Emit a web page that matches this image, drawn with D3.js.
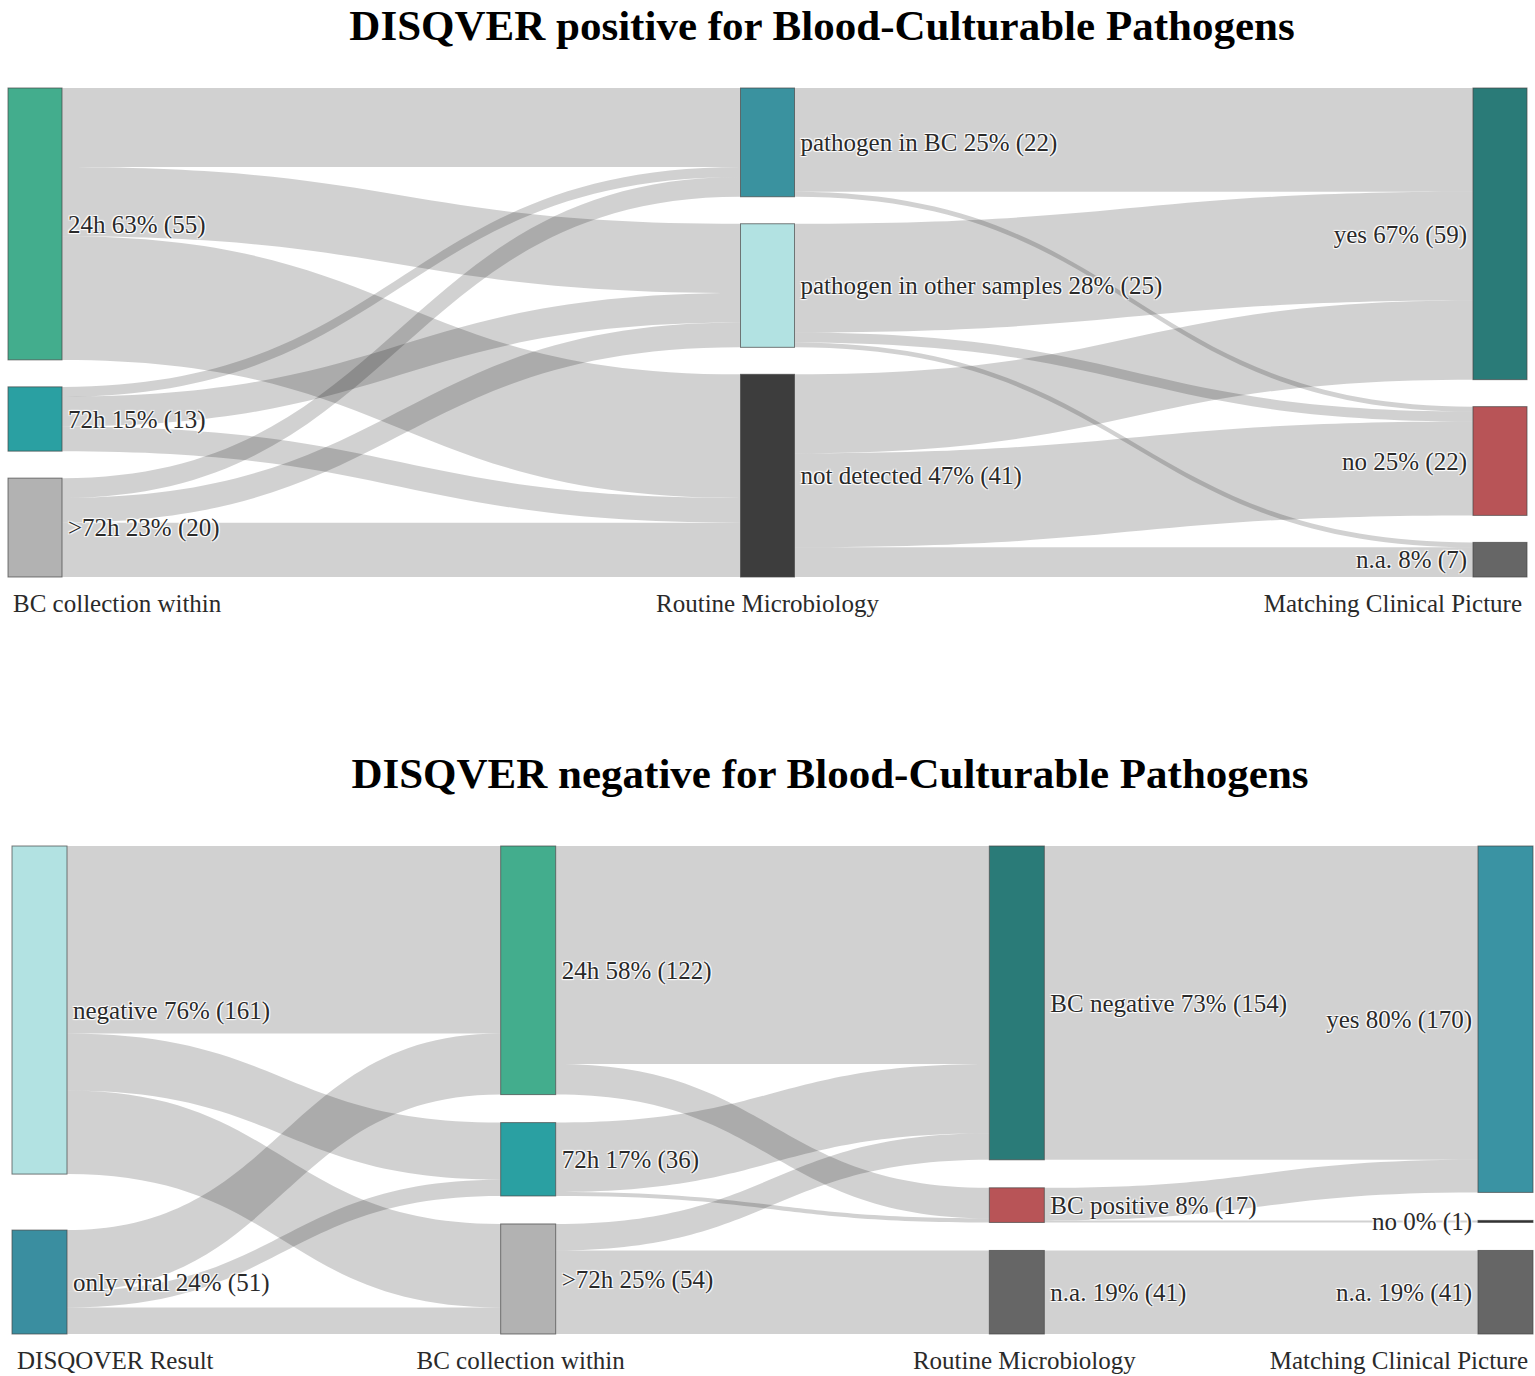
<!DOCTYPE html>
<html>
<head>
<meta charset="utf-8">
<script src="https://cdn.jsdelivr.net/npm/d3@7"></script>
<style>
  body { margin: 0; background: #fff; }
  text { font-family: "Liberation Serif", "Times New Roman", serif; }
  .lbl { text-shadow: 1px 1px 1px #fff, 1px -1px 1px #fff, -1px 1px 1px #fff, -1px -1px 1px #fff; }
</style>
</head>
<body>
<svg id="chart" width="1535" height="1376"></svg>
<script>
// ---- DISQVER positive ----
var posNames = ["24h", "72h", ">72h", "pathogen in BC", "pathogen in other samples", "not detected", "yes", "no", "n.a."];
var posColumn = [0, 0, 0, 1, 1, 1, 2, 2, 2];
var posSource = [0, 0, 0, 1, 1, 1, 2, 2, 2, 3, 3, 4, 4, 4, 5, 5, 5];
var posTarget = [3, 4, 5, 3, 4, 5, 3, 4, 5, 6, 7, 6, 7, 8, 6, 7, 8];
var posValue  = [16, 14, 25, 2, 6, 5, 4, 5, 11, 21, 1, 22, 2, 1, 16, 19, 6];
var posTitles = ["BC collection within", "Routine Microbiology", "Matching Clinical Picture"];

// ---- DISQVER negative ----
var negNames = ["negative", "only viral", "24h", "72h", ">72h", "BC negative", "BC positive", "n.a.", "yes", "no", "n.a."];
var negColumn = [0, 0, 1, 1, 1, 2, 2, 2, 3, 3, 3];
var negSource = [0, 0, 0, 1, 1, 1, 2, 2, 3, 3, 4, 4, 5, 6, 6, 7];
var negTarget = [2, 3, 4, 2, 3, 4, 5, 6, 5, 6, 5, 7, 8, 8, 9, 10];
var negValue  = [92, 28, 41, 30, 8, 13, 107, 15, 34, 2, 13, 41, 154, 16, 1, 41];
var negTitles = ["DISQOVER Result", "BC collection within", "Routine Microbiology", "Matching Clinical Picture"];

// node colours
var posColors = ["#43ad8d", "#2aa0a2", "#b2b2b2", "#3a929f", "#b2e2e2", "#3d3d3d", "#2a7b78", "#b85457", "#666666"];
var negColors = ["#b2e2e2", "#3a8ea0", "#43ad8d", "#2aa0a2", "#b2b2b2", "#2a7b78", "#b85457", "#666666", "#3a93a3", "#333333", "#666666"];

var svg = d3.select("#chart");

function sankey(g, cfg) {
  var nodes = cfg.names.map(function(d, i) {
    return {name: d, col: cfg.column[i], color: cfg.colors[i], sourceLinks: [], targetLinks: []};
  });
  var links = cfg.source.map(function(s, i) {
    return {source: nodes[s], target: nodes[cfg.target[i]], value: cfg.value[i]};
  });
  links.forEach(function(l) { l.source.sourceLinks.push(l); l.target.targetLinks.push(l); });
  nodes.forEach(function(n) {
    n.value = Math.max(d3.sum(n.sourceLinks, function(l) { return l.value; }),
                       d3.sum(n.targetLinks, function(l) { return l.value; }));
  });

  var cols = d3.groups(nodes, function(n) { return n.col; }).sort(function(a, b) { return a[0] - b[0]; });
  var H = cfg.y1 - cfg.y0;
  var ky = d3.min(cols, function(c) {
    return (H - (c[1].length - 1) * cfg.pad) / d3.sum(c[1], function(n) { return n.value; });
  });
  var total = d3.sum(cols[0][1], function(n) { return n.value; });
  var x = d3.scaleLinear().domain([0, cols.length - 1]).range([cfg.x0, cfg.x1 - cfg.nodeWidth]);
  var h = d3.scaleLinear().domain([0, 1]).range([0, ky]);

  cols.forEach(function(c) {
    var ns = c[1];
    var used = d3.sum(ns, function(n) { return h(n.value); });
    var gap = ns.length > 1 ? (H - used) / (ns.length - 1) : 0;
    var y = cfg.y0;
    ns.forEach(function(n) {
      n.x0 = x(n.col); n.x1 = n.x0 + cfg.nodeWidth;
      n.y0 = y; n.y1 = y + h(n.value);
      y = n.y1 + gap;
    });
  });

  nodes.forEach(function(n) {
    var y = n.y0;
    n.sourceLinks.sort(function(a, b) { return a.target.y0 - b.target.y0; })
      .forEach(function(l) { l.sy = y; l.w = h(l.value); y += l.w; });
    y = n.y0;
    n.targetLinks.sort(function(a, b) { return a.source.y0 - b.source.y0; })
      .forEach(function(l) { l.ty = y; y += h(l.value); });
  });

  function linkPath(l) {
    var x0 = l.source.x1, x1 = l.target.x0, xm = (x0 + x1) / 2;
    var p = d3.path();
    p.moveTo(x0, l.sy);
    p.bezierCurveTo(xm, l.sy, xm, l.ty, x1, l.ty);
    p.lineTo(x1, l.ty + l.w);
    p.bezierCurveTo(xm, l.ty + l.w, xm, l.sy + l.w, x0, l.sy + l.w);
    p.closePath();
    return p.toString();
  }

  g.append("g").selectAll("path")
    .data(links)
    .enter()
    .append("path")
      .attr("d", linkPath)
      .attr("fill", "rgba(0,0,0,0.18)");

  g.append("g").selectAll("rect")
    .data(nodes)
    .enter()
    .append("rect")
      .attr("x", function(n) { return n.x0; })
      .attr("y", function(n) { return n.y0; })
      .attr("width", cfg.nodeWidth)
      .attr("height", function(n) { return Math.max(1, n.y1 - n.y0); })
      .attr("fill", function(n) { return n.color; })
      .attr("stroke", "#444")
      .attr("stroke-opacity", 0.7)
      .attr("stroke-width", 1);

  var last = cols.length - 1;
  g.append("g").selectAll("text")
    .data(nodes)
    .enter()
    .append("text")
      .attr("class", "lbl")
      .attr("x", function(n) { return n.col === last ? n.x0 - 6 : n.x1 + 6; })
      .attr("y", function(n) { return (n.y0 + n.y1) / 2; })
      .attr("dy", "0.35em")
      .attr("text-anchor", function(n) { return n.col === last ? "end" : "start"; })
      .attr("font-size", 25)
      .attr("fill", "#2a2a2a")
      .text(function(n) { return n.name + " " + Math.round(n.value / total * 100) + "% (" + n.value + ")"; });

  var tx = d3.scaleLinear().domain([0, last]).range([cfg.x0 + 5, cfg.x1 - 5]);
  g.append("g").selectAll("text")
    .data(cfg.titles)
    .enter()
    .append("text")
      .attr("x", function(d, i) { return tx(i); })
      .attr("y", cfg.y1 + 26)
      .attr("dy", "0.35em")
      .attr("text-anchor", function(d, i) { return i === 0 ? "start" : (i === last ? "end" : "middle"); })
      .attr("font-size", 25)
      .attr("fill", "#2a2a2a")
      .text(function(d) { return d; });
}

svg.append("text")
  .attr("x", 822).attr("y", 40)
  .attr("text-anchor", "middle")
  .attr("font-size", 43).attr("font-weight", "bold")
  .text("DISQVER positive for Blood-Culturable Pathogens");

svg.append("text")
  .attr("x", 830).attr("y", 788)
  .attr("text-anchor", "middle")
  .attr("font-size", 43).attr("font-weight", "bold")
  .text("DISQVER negative for Blood-Culturable Pathogens");

sankey(svg.append("g"), {
  names: posNames, column: posColumn, colors: posColors,
  source: posSource, target: posTarget, value: posValue, titles: posTitles,
  x0: 8, x1: 1527, y0: 88, y1: 577, nodeWidth: 54, pad: 27
});

sankey(svg.append("g"), {
  names: negNames, column: negColumn, colors: negColors,
  source: negSource, target: negTarget, value: negValue, titles: negTitles,
  x0: 12, x1: 1533, y0: 846, y1: 1334, nodeWidth: 55, pad: 28
});
</script>
</body>
</html>
